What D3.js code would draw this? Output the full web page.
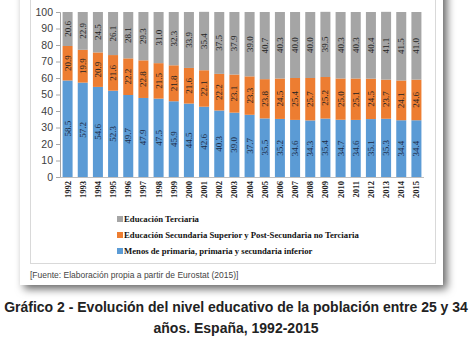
<!DOCTYPE html>
<html>
<head>
<meta charset="utf-8">
<script src="https://cdn.jsdelivr.net/npm/d3@7"></script>
<style>
  body { margin: 0; background: #fff; }
</style>
</head>
<body>
<div id="chart"></div>
<script>
const years = ['1992','1993','1994','1995','1996','1997','1998','1999','2000','2001','2002','2003',
               '2004','2005','2006','2007','2008','2009','2010','2011','2012','2013','2014','2015'];
const menos = [58.5,57.2,54.6,52.3,49.7,47.9,47.5,45.9,44.5,42.6,40.3,39.0,
               37.7,35.5,35.2,34.6,34.3,35.4,34.7,34.6,35.1,35.3,34.4,34.4];
const secundaria = [20.9,19.9,20.9,21.6,22.2,22.8,21.5,21.8,21.6,22.1,22.2,23.1,
                    23.3,23.8,24.5,25.4,25.7,25.2,25.0,25.1,24.5,23.7,24.1,24.6];
const terciaria = [20.6,22.9,24.5,26.1,28.1,29.3,31.0,32.3,33.9,35.4,37.5,37.9,
                   39.0,40.7,40.3,40.0,40.0,39.5,40.3,40.3,40.4,41.1,41.5,41.0];
const yTicks = [0,10,20,30,40,50,60,70,80,90,100];
const legendLabels = ['Educación Terciaria',
                      'Educación Secundaria Superior y Post-Secundaria no Terciaria',
                      'Menos de primaria, primaria y secundaria inferior'];

const width = 473, height = 346;
const colors = {menos: '#5b9bd5', secundaria: '#ed7d31', terciaria: '#a5a5a5'};

const data = years.map((y, i) => ({year: y, menos: menos[i], secundaria: secundaria[i], terciaria: terciaria[i]}));
const keys = ['menos', 'secundaria', 'terciaria'];
const stacked = d3.stack().keys(keys)(data);

const svg = d3.select('#chart').append('svg')
    .attr('width', width).attr('height', height)
    .style('display', 'block');

// shadowed card
const defs = svg.append('defs');
defs.append('filter').attr('id', 'shadow')
    .attr('x', '-10%').attr('y', '-10%').attr('width', '130%').attr('height', '130%')
    .append('feDropShadow')
    .attr('dx', 4).attr('dy', 4).attr('stdDeviation', 4)
    .attr('flood-color', '#000').attr('flood-opacity', 0.6);

svg.append('rect')
    .attr('x', 20).attr('y', -20).attr('width', 423).attr('height', 305)
    .attr('fill', '#fff').attr('filter', 'url(#shadow)');

svg.append('rect')
    .attr('x', 30.5).attr('y', -10).attr('width', 405).attr('height', 273.5)
    .attr('fill', 'none').attr('stroke', '#d9d9d9');

const x = d3.scaleBand().domain(years).range([60, 424]).paddingInner(0.34).paddingOuter(0.17);
const y = d3.scaleLinear().domain([0, 100]).range([177, 12]);

const g = svg.append('g');

g.selectAll('g.layer')
    .data(stacked)
    .enter().append('g')
    .attr('class', 'layer')
    .attr('fill', d => colors[d.key])
    .selectAll('rect')
    .data(d => d)
    .enter().append('rect')
    .attr('x', d => x(d.data.year))
    .attr('y', d => y(d[1]))
    .attr('width', x.bandwidth())
    .attr('height', d => y(d[0]) - y(d[1]));

// value labels
g.selectAll('g.labels')
    .data(stacked)
    .enter().append('g')
    .attr('class', 'labels')
    .selectAll('text')
    .data(d => d)
    .enter().append('text')
    .attr('transform', d => 'translate(' + (x(d.data.year) + x.bandwidth() / 2 + 3) + ',' + y((d[0] + d[1]) / 2) + ') rotate(-90)')
    .attr('text-anchor', 'middle')
    .style('font-family', '"Liberation Serif", serif')
    .style('font-size', '9px')
    .attr('fill', (d, i, n) => n[0].parentNode.__data__.key === 'menos' ? '#1b2a44' : '#222')
    .text(d => (d[1] - d[0]).toFixed(1));

// y axis
const yAxis = svg.append('g')
    .attr('transform', 'translate(60,0)')
    .call(d3.axisLeft(y).tickValues(yTicks).tickSize(4).tickPadding(3));
yAxis.select('.domain').attr('stroke', '#a6a6a6');
yAxis.selectAll('.tick line').attr('stroke', '#a6a6a6');
yAxis.selectAll('text')
    .style('font-family', '"Liberation Sans", Arial, sans-serif')
    .style('font-size', '10.5px')
    .attr('fill', '#404040');

// x axis
const xAxis = svg.append('g')
    .attr('transform', 'translate(0,177)')
    .call(d3.axisBottom(x).tickSize(0).tickPadding(0).tickSizeOuter(0));
xAxis.select('.domain').attr('stroke', '#bfbfbf').attr('d', 'M60,0.5H424');
xAxis.selectAll('text')
    .attr('transform', 'rotate(-90)')
    .attr('y', 0).attr('x', -4).attr('dy', '0.35em')
    .attr('text-anchor', 'end')
    .style('font-family', '"Liberation Serif", serif')
    .style('font-size', '8.5px')
    .style('font-weight', 'bold')
    .attr('fill', '#222');

// legend
const legendColors = [colors.terciaria, colors.secundaria, colors.menos];
const legend = svg.selectAll('g.legend')
    .data(legendLabels)
    .enter().append('g')
    .attr('class', 'legend')
    .attr('transform', (d, i) => 'translate(117,' + [219, 235, 251][i] + ')');
legend.append('rect')
    .attr('x', 0).attr('y', -3).attr('width', 6).attr('height', 6)
    .attr('fill', (d, i) => legendColors[i]);
legend.append('text')
    .attr('x', 7).attr('dy', '0.35em')
    .style('font-family', '"Liberation Serif", serif')
    .style('font-size', '8.7px')
    .style('font-weight', 'bold')
    .attr('fill', '#111')
    .text(d => d);

// source
svg.append('text')
    .attr('x', 30).attr('y', 278)
    .style('font-family', '"Liberation Sans", Arial, sans-serif')
    .style('font-size', '8.5px')
    .attr('fill', '#444')
    .text('[Fuente: Elaboración propia a partir de Eurostat (2015)]');

// caption
const caption = svg.append('text')
    .attr('text-anchor', 'middle')
    .style('font-family', '"Liberation Sans", Arial, sans-serif')
    .style('font-size', '14px')
    .style('font-weight', 'bold')
    .attr('fill', '#222');
caption.append('tspan').attr('x', 236).attr('y', 312)
    .text('Gráfico 2 - Evolución del nivel educativo de la población entre 25 y 34');
caption.append('tspan').attr('x', 236).attr('y', 333)
    .text('años. España, 1992-2015');
</script>
</body>
</html>
